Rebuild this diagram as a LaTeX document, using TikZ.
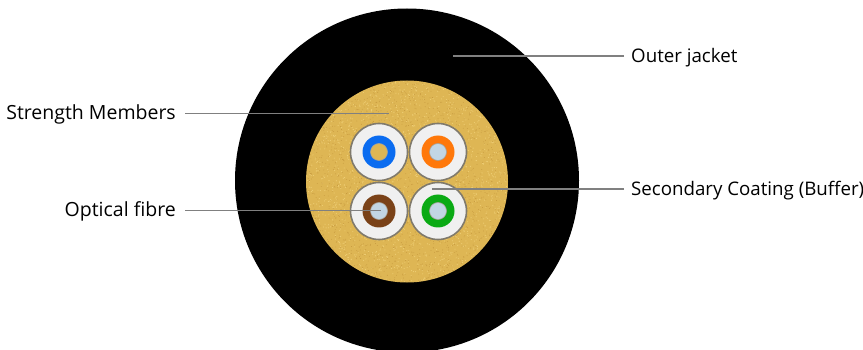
\documentclass[tikz,border=0pt]{standalone}
\usepackage{fontspec}
\setmainfont{Open Sans}
\definecolor{fbyellow}{RGB}{222,182,84}
\definecolor{fbspeck}{RGB}{240,208,120}
\definecolor{fbdark}{RGB}{196,150,60}
\definecolor{fbwhite}{RGB}{240,240,240}
\definecolor{fbedge}{RGB}{128,122,108}
\definecolor{fbcore}{RGB}{194,214,228}
\definecolor{fbblue}{RGB}{10,108,240}
\definecolor{fborange}{RGB}{255,120,10}
\definecolor{fbbrown}{RGB}{122,66,24}
\definecolor{fbgreen}{RGB}{10,170,20}
\definecolor{fbline}{RGB}{128,128,128}
\usetikzlibrary{arrows.meta,positioning}
\tikzset{
  layer/.style={circle,inner sep=0pt,minimum size=#1},
  buffer/.style={layer=57,draw=fbedge,line width=1.6pt,fill=fbwhite},
  tube/.style={layer=33,fill=#1},
  core/.style={layer=17,draw=fbedge!70,line width=.6pt,fill=fbcore},
  label/.style={font=\fontsize{18.7}{22}\selectfont,inner sep=0pt,text height=16pt,text depth=3.5pt},
  biglabel/.style={label,font=\fontsize{19.5}{24}\selectfont},
  leader/.style={draw=fbline,line width=1.3pt}
}
\begin{document}
\begin{tikzpicture}[x=1pt,y=-1pt]
  \useasboundingbox (0,0) rectangle (863,350);
  \pgfmathsetseed{7}
  \node[layer=344,fill=black] (jacket) at (407,180.5) {};
  \node[layer=202,fill=fbyellow] (members) at (407,181.5) {};
  % speckle
  \begin{scope}
    \clip (407,181.5) circle (100.5);
    \foreach \i in {1,...,2000} {
      \fill[fbspeck] (306+202*rnd,80+202*rnd) circle (.55);
      \fill[fbdark] (306+202*rnd,80+202*rnd) circle (.4);
    }
  \end{scope}
  % four fibres
  \node[buffer] (bufa) at (379,152) {};
  \node[buffer] (bufb) at (438,152) {};
  \node[buffer] (bufc) at (379,211) {};
  \node[buffer] (bufd) at (438,211) {};
  \node[tube=fbblue] (tubea) at (bufa) {};
  \node[tube=fborange] (tubeb) at (bufb) {};
  \node[tube=fbbrown] (tubec) at (bufc) {};
  \node[tube=fbgreen] (tubed) at (bufd) {};
  \node[core,fill=fbyellow] (corea) at (bufa) {};
  \node[core] (coreb) at (bufb) {};
  \node[core] (corec) at (bufc) {};
  \node[core] (cored) at (bufd) {};
  % labels
  \node[label,anchor=west] (outer) at (631,56) {Outer jacket};
  \node[label,anchor=west] (coating) at (631,189) {Secondary Coating (Buffer)};
  \node[biglabel,anchor=east] (strength) at (176,113.5) {Strength Members};
  \node[biglabel,anchor=east] (fibre) at (176,210.5) {Optical fibre};
  \coordinate (outerend) at (453,56);
  \coordinate (coatingend) at (432,189);
  \coordinate (strengthend) at (389,113.5);
  \coordinate (fibreend) at (381,210.5);
  \draw[leader] ([xshift=-7pt]outer.west) -- (outerend);
  \draw[leader] ([xshift=-7pt]coating.west) -- (coatingend);
  \draw[leader] ([xshift=9pt]strength.east) -- (strengthend);
  \draw[leader] ([xshift=9pt]fibre.east) -- (fibreend);
\end{tikzpicture}
\end{document}
